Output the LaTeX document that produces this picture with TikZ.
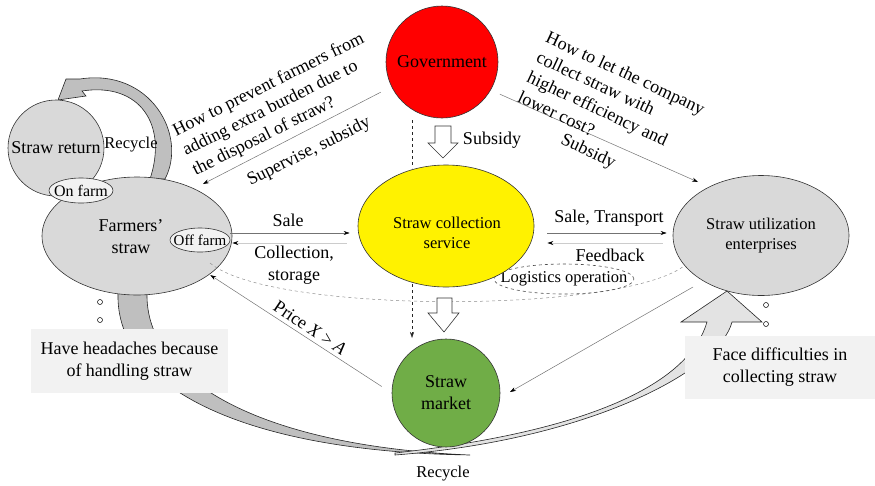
\documentclass[tikz,border=0pt]{standalone}
\usepackage{fontspec}
\setmainfont{Liberation Serif}
\newfontfamily\tnr{Liberation Serif}
\usetikzlibrary{shapes.geometric,arrows.meta,calc}
\definecolor{lgray}{HTML}{D9D9D9}
\definecolor{mgray}{HTML}{BFBFBF}
\definecolor{pgray}{HTML}{E3E3E3}
\definecolor{boxgray}{HTML}{F2F2F2}
\definecolor{sgreen}{HTML}{70AD47}
\begin{document}
\tnr
\begin{tikzpicture}[x=1pt,y=-1pt,
  big/.style={font=\tnr\fontsize{18}{22}\selectfont},
  mid/.style={font=\tnr\fontsize{16.5}{20}\selectfont},
  ell/.style={ellipse,draw=black!80,line width=0.6pt,align=center,inner sep=0pt},
  arr/.style={draw=black!55,line width=0.5pt,-{Stealth[length=6pt,width=4pt,color=black]}},
  larr/.style={draw=black!20,line width=0.9pt,-{Stealth[length=6pt,width=4pt,color=black]}},
  hollow/.style={draw=black!80,fill=white,line width=0.6pt},
  band/.style={draw=black!85,line width=0.6pt},
  dline/.style={draw=black!85,dashed,line width=0.5pt},
  dot/.style={circle,draw=black,fill=white,line width=0.5pt,inner sep=0pt,minimum size=5pt},
  note/.style={fill=boxgray,align=center,big,inner sep=0pt}
]
\useasboundingbox (0,0) rectangle (875,485);

% big recycle bands
\draw[band,fill=mgray] (118,293) .. controls (115,390) and (250,452) .. (470,455)
   .. controls (260,446) and (145,380) .. (147,293) -- cycle;
\draw[band,fill=pgray] (395,455) .. controls (590,440) and (720,370) .. (732,322)
   -- (762,322) -- (727,291) -- (681,322) -- (707,322)
   .. controls (690,380) and (600,430) .. (395,453) -- cycle;

% small recycle arrow
\draw[band,fill=mgray] (165,179) .. controls (188,135) and (150,68) .. (80,79)
   -- (66,79) -- (58,100) -- (86,96) -- (82,91)
   .. controls (140,82) and (168,125) .. (150,179) -- cycle;

% nodes
\node[ell,fill=lgray,circle,minimum size=96pt,big] (ret) at (56,148) {Straw return};
\node[ell,fill=lgray,minimum width=190pt,minimum height=118pt,big] (farm) at (137,236) {};
\node[big,align=center] (farmtxt) at (131,237) {Farmers’\\straw};
\node[ell,fill=boxgray,minimum width=64pt,minimum height=25pt,inner xsep=-8pt,inner ysep=-3pt,font=\tnr\fontsize{16}{18}\selectfont] (on) at (81,190.5) {On farm};
\node[ell,fill=boxgray,minimum width=60pt,minimum height=24pt,inner xsep=-8pt,inner ysep=-3pt,font=\tnr\fontsize{15}{17}\selectfont] (off) at (200,240) {Off farm};
\node[mid] (rec1) at (131,145) {Recycle};

% long dashed curve and logistics
\draw[draw=black!45,dashed,line width=0.5pt] (210,263) .. controls (270,314) and (620,314) .. (684,266);
\node[ell,dashed,draw=black!70,minimum width=138pt,minimum height=30pt,inner xsep=-14pt,inner ysep=-4pt,mid] (log) at (564,279) {Logistics operation};

\node[ell,fill=yellow,minimum width=176pt,minimum height=122pt] (coll) at (446,226) {};
\node[mid,align=center] (colltxt) at (447,233) {Straw collection\\service};
\node[ell,fill=red,circle,minimum size=112pt,big] (gov) at (442,62) {Government};
\node[ell,fill=sgreen,circle,minimum size=108pt,big] (mkt) at (446,393) {Straw\\market};
\node[ell,fill=lgray,minimum width=176pt,minimum height=120pt,mid] (util) at (761,235.5) {Straw utilization\\enterprises};

% dashed government -> market line, hidden behind the yellow ellipse
\coordinate (dtop) at (412,120);
\coordinate (dmid1) at (412,168);
\coordinate (dmid2) at (412,284);
\coordinate (dbot) at (412,338);
\draw[dline] (dtop) -- (dmid1);
\draw[dline,-{Stealth[length=6pt,width=4pt]}] (dmid2) -- (dbot);

% hollow arrows
\draw[hollow] (435,126) -- (451,126) -- (451,143) -- (458,143) -- (443,158) -- (428,143) -- (435,143) -- cycle;
\draw[hollow] (437,298) -- (452,298) -- (452,313) -- (459,313) -- (444,332) -- (428,313) -- (437,313) -- cycle;
\node[big] (subs1) at (492,140) {Subsidy};

% horizontal arrows
\draw[arr] ([yshift=7pt]off.east) -- ([yshift=-7pt,xshift=-8pt]coll.west);
\draw[larr] ([yshift=-17pt,xshift=-11pt]coll.west) -- ([yshift=-3pt,xshift=2pt]off.east);
\draw[arr] ([yshift=-7pt,xshift=13pt]coll.east) -- ([yshift=2.5pt,xshift=-6pt]util.west);
\draw[larr] ([yshift=-7.5pt,xshift=-10pt]util.west) -- ([yshift=-17pt,xshift=13pt]coll.east);
\node[big] (lsale) at (288,220) {Sale};
\node[big,align=center] (lcoll) at (294,265) {Collection,\\storage};
\node[big] (lst) at (609,218) {Sale, Transport};
\node[big] (lfb) at (610,255) {Feedback};

% government arrows
\coordinate (tipf) at (203,184);
\coordinate (tipu) at (698,182);
\draw[arr,shorten <=12pt] (gov.206) -- (tipf);
\draw[arr,shorten <=10pt] (gov.-30) -- (tipu);

% market arrows
\coordinate (ut1) at (693,287);
\coordinate (mk1) at (510,392);
\draw[arr] (ut1) -- (mk1);
\draw[arr,shorten <=12pt,shorten >=1pt] (mkt.west) -- (farm.-28);

% rotated texts
\node[big,align=left,rotate=26.5,anchor=west,inner sep=0pt] (q1) at (184,152) {How to prevent farmers from\\adding extra burden due to\\the disposal of straw?};
\node[big,rotate=26.5] (sup) at (309,152) {Supervise, subsidy};
\node[big,align=left,rotate=-25,anchor=west,inner sep=0pt] (q2) at (533,66) {How to let the company\\collect straw with\\higher efficiency and\\lower cost?};
\node[big,rotate=-25] (subs2) at (588,152) {Subsidy};
\node[big,rotate=-34] (price) at (310,328) {Price \textit{X} > \textit{A}};

% notes and dots
\node[note,minimum width=197pt,minimum height=64pt] (n1) at (129.5,361) {Have headaches because\\of handling straw};
\node[note,minimum width=190pt,minimum height=63pt] (n2) at (780,367.5) {Face difficulties in\\collecting straw};
\node[dot] (d1) at (100,302) {};
\node[dot] (d2) at (100,320) {};
\node[dot] (d3) at (766,305) {};
\node[dot] (d4) at (766,324) {};

\node[mid] (rec2) at (443,474) {Recycle};
\end{tikzpicture}
\end{document}
